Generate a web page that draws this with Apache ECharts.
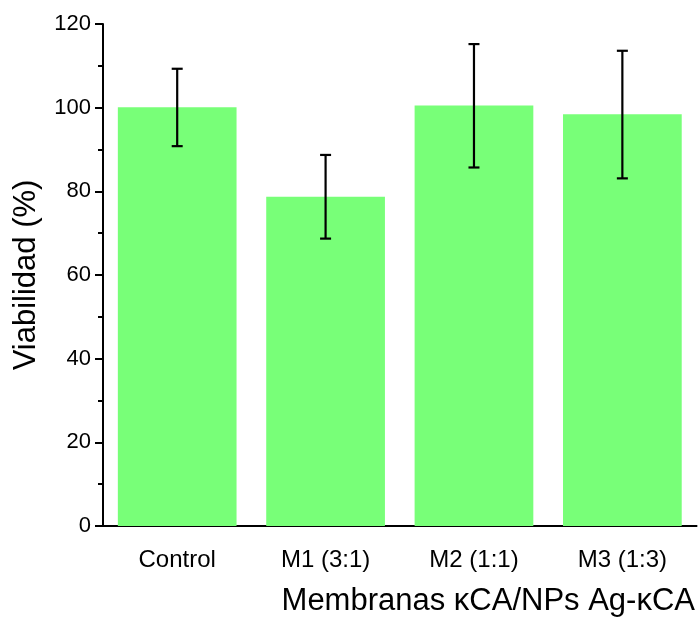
<!DOCTYPE html>
<html>
<head>
<meta charset="utf-8">
<title>Viabilidad</title>
<script src="https://cdn.jsdelivr.net/npm/echarts@6/dist/echarts.min.js"></script>
<style>
    html, body { margin: 0; padding: 0; background: #fff; }
    #main { width: 698px; height: 622px; }
</style>
</head>
<body>
<div id="main"></div>
<script type="text/javascript">
    // datos
    var categorias = ['Control', 'M1 (3:1)', 'M2 (1:1)', 'M3 (1:3)'];
    var viabilidad = [100.1, 78.7, 100.5, 98.4];
    var errorInf = [90.8, 68.7, 85.7, 83.1];
    var errorSup = [109.3, 88.7, 115.2, 113.6];
    var yTicks = [0, 20, 40, 60, 80, 100, 120];

    var errData = [];
    for (var i = 0; i < categorias.length; i++) {
        errData.push([i, errorInf[i], errorSup[i]]);
    }

    var fuente = 'Liberation Sans, Arial, sans-serif';
    var myChart = echarts.init(document.getElementById('main'));

    myChart.setOption({
        animation: false,
        backgroundColor: '#ffffff',
        grid: {
            left: 103,
            right: -5,
            top: 24,
            bottom: 96
        },
        xAxis: [
            {
                type: 'category',
                data: categorias,
                axisLine: { lineStyle: { color: '#000', width: 2 } },
                axisTick: { alignWithLabel: true, length: 9, lineStyle: { color: '#000', width: 2 } },
                axisLabel: { color: '#000', fontSize: 24, fontFamily: fuente, margin: 22 },
                name: 'Membranas κCA/NPs Ag-κCA',
                nameLocation: 'middle',
                nameGap: 60,
                nameTextStyle: { color: '#000', fontSize: 31, fontFamily: fuente, padding: [0, 0, 0, 177] }
            },
            {
                // ticks menores entre categorias
                type: 'category',
                data: categorias,
                position: 'bottom',
                axisLine: { show: false },
                axisTick: { length: 4, lineStyle: { color: '#000', width: 2 } },
                axisLabel: { show: false }
            }
        ],
        yAxis: {
            type: 'value',
            min: 0,
            max: 120,
            interval: 20,
            axisLine: { show: true, lineStyle: { color: '#000', width: 2 } },
            axisTick: { show: true, length: 8, lineStyle: { color: '#000', width: 2 } },
            minorTick: { show: true, splitNumber: 2, length: 5, lineStyle: { color: '#000', width: 2 } },
            splitLine: { show: false },
            axisLabel: {
                color: '#000', fontSize: 22, fontFamily: fuente, margin: 12,
                formatter: function (v) { return yTicks.indexOf(v) >= 0 ? String(v) : ''; }
            },
            name: 'Viabilidad (%)',
            nameLocation: 'middle',
            nameGap: 61,
            nameTextStyle: { color: '#000', fontSize: 31, fontFamily: fuente }
        },
        series: [
            {
                name: 'Viabilidad',
                type: 'bar',
                data: viabilidad,
                barWidth: '80%',
                itemStyle: { color: '#78ff78' },
                z: 2
            },
            {
                name: 'Error',
                type: 'custom',
                data: errData,
                z: 3,
                renderItem: function (params, api) {
                    var x = api.value(0);
                    var bajo = api.coord([x, api.value(1)]);
                    var alto = api.coord([x, api.value(2)]);
                    var w = 5.5;
                    var estilo = { stroke: '#000', lineWidth: 2.2 };
                    return {
                        type: 'group',
                        children: [
                            { type: 'line', shape: { x1: alto[0], y1: alto[1], x2: bajo[0], y2: bajo[1] }, style: estilo },
                            { type: 'line', shape: { x1: alto[0] - w, y1: alto[1], x2: alto[0] + w, y2: alto[1] }, style: estilo },
                            { type: 'line', shape: { x1: bajo[0] - w, y1: bajo[1], x2: bajo[0] + w, y2: bajo[1] }, style: estilo }
                        ]
                    };
                }
            }
        ]
    });
</script>
</body>
</html>
